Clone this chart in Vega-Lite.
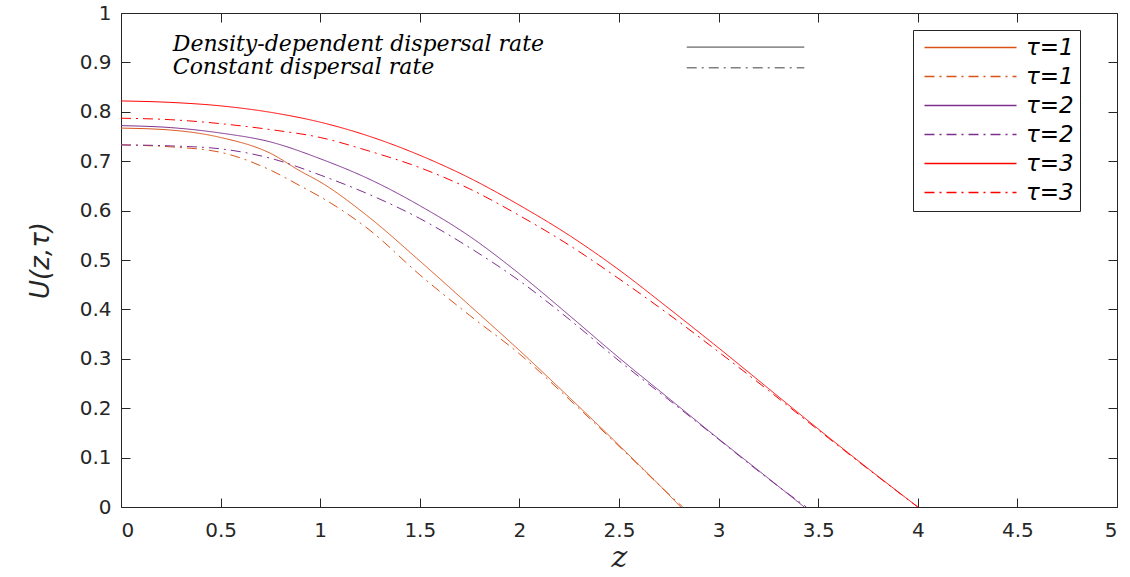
{
  "$schema": "https://vega.github.io/schema/vega-lite/v6.json",
  "width": 996,
  "height": 494,
  "autosize": {"type": "none"},
  "padding": {"left": 121, "top": 13, "right": 13, "bottom": 70},
  "background": "white",
  "config": {
    "view": {"stroke": null},
    "axis": {
      "grid": false,
      "domainColor": "#262626",
      "tickColor": "#262626",
      "labelColor": "#262626",
      "labelFont": "DejaVu Sans",
      "labelFontSize": 20,
      "tickSize": -9,
      "titleColor": "#262626",
      "titleFontWeight": "normal"
    },
    "legend": {
      "orient": "none",
      "legendX": 792,
      "legendY": 17,
      "title": null,
      "symbolType": "M-4.6,0H4.6",
      "symbolSize": 400,
      "symbolStrokeWidth": 1.5,
      "symbolOffset": 40,
      "strokeColor": "#262626",
      "fillColor": "white",
      "padding": 6,
      "rowPadding": 5,
      "labelOffset": 44,
      "labelFont": "DejaVu Sans",
      "labelFontStyle": "italic",
      "labelFontSize": 23,
      "labelColor": "#000000"
    }
  },
  "datasets": {
    "profiles": [
      {"series": "τ=1 density-dependent", "z": 0, "U": 0.767},
      {"series": "τ=1 density-dependent", "z": 0.25, "U": 0.763},
      {"series": "τ=1 density-dependent", "z": 0.5, "U": 0.748},
      {"series": "τ=1 density-dependent", "z": 0.75, "U": 0.716},
      {"series": "τ=1 density-dependent", "z": 0.9, "U": 0.68},
      {"series": "τ=1 density-dependent", "z": 1.0, "U": 0.658},
      {"series": "τ=1 density-dependent", "z": 1.25, "U": 0.585},
      {"series": "τ=1 density-dependent", "z": 1.5, "U": 0.498},
      {"series": "τ=1 density-dependent", "z": 1.75, "U": 0.408},
      {"series": "τ=1 density-dependent", "z": 2.0, "U": 0.317},
      {"series": "τ=1 density-dependent", "z": 2.25, "U": 0.222},
      {"series": "τ=1 density-dependent", "z": 2.5, "U": 0.125},
      {"series": "τ=1 density-dependent", "z": 2.75, "U": 0.025},
      {"series": "τ=1 density-dependent", "z": 2.81, "U": 0},

      {"series": "τ=1 constant", "z": 0, "U": 0.733},
      {"series": "τ=1 constant", "z": 0.25, "U": 0.729},
      {"series": "τ=1 constant", "z": 0.5, "U": 0.718},
      {"series": "τ=1 constant", "z": 0.75, "U": 0.682},
      {"series": "τ=1 constant", "z": 0.9, "U": 0.65},
      {"series": "τ=1 constant", "z": 1.0, "U": 0.628},
      {"series": "τ=1 constant", "z": 1.25, "U": 0.56},
      {"series": "τ=1 constant", "z": 1.5, "U": 0.47},
      {"series": "τ=1 constant", "z": 1.75, "U": 0.388},
      {"series": "τ=1 constant", "z": 2.0, "U": 0.31},
      {"series": "τ=1 constant", "z": 2.25, "U": 0.218},
      {"series": "τ=1 constant", "z": 2.5, "U": 0.123},
      {"series": "τ=1 constant", "z": 2.75, "U": 0.026},
      {"series": "τ=1 constant", "z": 2.82, "U": 0},

      {"series": "τ=2 density-dependent", "z": 0, "U": 0.772},
      {"series": "τ=2 density-dependent", "z": 0.25, "U": 0.768},
      {"series": "τ=2 density-dependent", "z": 0.5, "U": 0.757},
      {"series": "τ=2 density-dependent", "z": 0.75, "U": 0.739},
      {"series": "τ=2 density-dependent", "z": 1.0, "U": 0.705},
      {"series": "τ=2 density-dependent", "z": 1.25, "U": 0.663},
      {"series": "τ=2 density-dependent", "z": 1.5, "U": 0.61},
      {"series": "τ=2 density-dependent", "z": 1.75, "U": 0.548},
      {"series": "τ=2 density-dependent", "z": 2.0, "U": 0.472},
      {"series": "τ=2 density-dependent", "z": 2.25, "U": 0.388},
      {"series": "τ=2 density-dependent", "z": 2.5, "U": 0.302},
      {"series": "τ=2 density-dependent", "z": 2.75, "U": 0.22},
      {"series": "τ=2 density-dependent", "z": 3.0, "U": 0.138},
      {"series": "τ=2 density-dependent", "z": 3.25, "U": 0.058},
      {"series": "τ=2 density-dependent", "z": 3.43, "U": 0},

      {"series": "τ=2 constant", "z": 0, "U": 0.733},
      {"series": "τ=2 constant", "z": 0.25, "U": 0.731},
      {"series": "τ=2 constant", "z": 0.5, "U": 0.725},
      {"series": "τ=2 constant", "z": 0.75, "U": 0.706},
      {"series": "τ=2 constant", "z": 1.0, "U": 0.672},
      {"series": "τ=2 constant", "z": 1.25, "U": 0.632},
      {"series": "τ=2 constant", "z": 1.5, "U": 0.584},
      {"series": "τ=2 constant", "z": 1.75, "U": 0.525},
      {"series": "τ=2 constant", "z": 2.0, "U": 0.458},
      {"series": "τ=2 constant", "z": 2.25, "U": 0.38},
      {"series": "τ=2 constant", "z": 2.5, "U": 0.296},
      {"series": "τ=2 constant", "z": 2.75, "U": 0.217},
      {"series": "τ=2 constant", "z": 3.0, "U": 0.137},
      {"series": "τ=2 constant", "z": 3.25, "U": 0.057},
      {"series": "τ=2 constant", "z": 3.44, "U": 0},

      {"series": "τ=3 density-dependent", "z": 0, "U": 0.822},
      {"series": "τ=3 density-dependent", "z": 0.25, "U": 0.819},
      {"series": "τ=3 density-dependent", "z": 0.5, "U": 0.812},
      {"series": "τ=3 density-dependent", "z": 0.75, "U": 0.799},
      {"series": "τ=3 density-dependent", "z": 1.0, "U": 0.779},
      {"series": "τ=3 density-dependent", "z": 1.25, "U": 0.75},
      {"series": "τ=3 density-dependent", "z": 1.5, "U": 0.712},
      {"series": "τ=3 density-dependent", "z": 1.75, "U": 0.666},
      {"series": "τ=3 density-dependent", "z": 2.0, "U": 0.611},
      {"series": "τ=3 density-dependent", "z": 2.25, "U": 0.55},
      {"series": "τ=3 density-dependent", "z": 2.5, "U": 0.48},
      {"series": "τ=3 density-dependent", "z": 2.75, "U": 0.402},
      {"series": "τ=3 density-dependent", "z": 3.0, "U": 0.322},
      {"series": "τ=3 density-dependent", "z": 3.25, "U": 0.24},
      {"series": "τ=3 density-dependent", "z": 3.5, "U": 0.158},
      {"series": "τ=3 density-dependent", "z": 3.75, "U": 0.078},
      {"series": "τ=3 density-dependent", "z": 4.0, "U": 0},

      {"series": "τ=3 constant", "z": 0, "U": 0.787},
      {"series": "τ=3 constant", "z": 0.25, "U": 0.784},
      {"series": "τ=3 constant", "z": 0.5, "U": 0.776},
      {"series": "τ=3 constant", "z": 0.75, "U": 0.764},
      {"series": "τ=3 constant", "z": 1.0, "U": 0.748},
      {"series": "τ=3 constant", "z": 1.25, "U": 0.72},
      {"series": "τ=3 constant", "z": 1.5, "U": 0.687},
      {"series": "τ=3 constant", "z": 1.75, "U": 0.644},
      {"series": "τ=3 constant", "z": 2.0, "U": 0.59},
      {"series": "τ=3 constant", "z": 2.25, "U": 0.53},
      {"series": "τ=3 constant", "z": 2.5, "U": 0.462},
      {"series": "τ=3 constant", "z": 2.75, "U": 0.39},
      {"series": "τ=3 constant", "z": 3.0, "U": 0.314},
      {"series": "τ=3 constant", "z": 3.25, "U": 0.236},
      {"series": "τ=3 constant", "z": 3.5, "U": 0.156},
      {"series": "τ=3 constant", "z": 3.75, "U": 0.077},
      {"series": "τ=3 constant", "z": 4.0, "U": 0}
    ]
  },
  "layer": [
    {
      "data": {"name": "profiles"},
      "mark": {"type": "line", "strokeWidth": 1, "interpolate": "monotone"},
      "encoding": {
        "x": {
          "field": "z",
          "type": "quantitative",
          "scale": {"domain": [0, 5], "nice": false},
          "axis": {
            "orient": "bottom",
            "values": [0, 0.5, 1, 1.5, 2, 2.5, 3, 3.5, 4, 4.5, 5],
            "format": "~g",
            "labelPadding": 22,
            "title": "z",
            "titleFont": "DejaVu Serif",
            "titleFontStyle": "italic",
            "titleFontSize": 30,
            "titlePadding": 2
          }
        },
        "y": {
          "field": "U",
          "type": "quantitative",
          "scale": {"domain": [0, 1], "nice": false},
          "axis": {
            "orient": "left",
            "values": [0, 0.1, 0.2, 0.3, 0.4, 0.5, 0.6, 0.7, 0.8, 0.9, 1],
            "format": "~g",
            "labelPadding": 19,
            "title": "U(z,τ)",
            "titleFont": "DejaVu Sans",
            "titleFontStyle": "italic",
            "titleFontSize": 26,
            "titlePadding": 26
          }
        },
        "color": {
          "field": "series",
          "type": "nominal",
          "scale": {
            "domain": ["τ=1 density-dependent", "τ=1 constant", "τ=2 density-dependent", "τ=2 constant", "τ=3 density-dependent", "τ=3 constant"],
            "range": ["#D95319", "#D95319", "#7E2F8E", "#7E2F8E", "#FF0000", "#FF0000"]
          },
          "legend": {
            "labelExpr": "split(datum.label, ' ')[0]",
            "encode": {
              "symbols": {
                "update": {
                  "stroke": {"scale": "color", "field": "value"},
                  "strokeDash": {"scale": "strokeDash", "field": "value"}
                }
              }
            }
          }
        },
        "strokeDash": {
          "field": "series",
          "type": "nominal",
          "scale": {
            "domain": ["τ=1 density-dependent", "τ=1 constant", "τ=2 density-dependent", "τ=2 constant", "τ=3 density-dependent", "τ=3 constant"],
            "range": [[1, 0], [10, 5, 2, 5], [1, 0], [10, 5, 2, 5], [1, 0], [10, 5, 2, 5]]
          },
          "legend": null
        }
      }
    },
    {
      "data": {"values": [{}]},
      "mark": {"type": "text", "align": "left", "baseline": "middle", "font": "DejaVu Serif", "fontStyle": "italic", "fontSize": 22, "color": "#000000"},
      "encoding": {
        "x": {
          "datum": 0.26,
          "type": "quantitative",
          "axis": {"orient": "top", "values": [0, 0.5, 1, 1.5, 2, 2.5, 3, 3.5, 4, 4.5, 5], "labels": false, "title": null}
        },
        "y": {
          "datum": 0.937,
          "type": "quantitative",
          "axis": {"orient": "right", "values": [0, 0.1, 0.2, 0.3, 0.4, 0.5, 0.6, 0.7, 0.8, 0.9, 1], "labels": false, "title": null}
        },
        "text": {"value": "Density-dependent dispersal rate"}
      }
    },
    {
      "data": {"values": [{}]},
      "mark": {"type": "text", "align": "left", "baseline": "middle", "font": "DejaVu Serif", "fontStyle": "italic", "fontSize": 22, "color": "#000000"},
      "encoding": {
        "x": {"datum": 0.26, "type": "quantitative", "axis": null},
        "y": {"datum": 0.891, "type": "quantitative", "axis": null},
        "text": {"value": "Constant dispersal rate"}
      }
    },
    {
      "data": {"values": [{}]},
      "mark": {"type": "rule", "strokeWidth": 1, "color": "#404040"},
      "encoding": {
        "x": {"datum": 2.84, "type": "quantitative", "axis": null},
        "x2": {"datum": 3.43},
        "y": {"datum": 0.931, "type": "quantitative", "axis": null}
      }
    },
    {
      "data": {"values": [{}]},
      "mark": {"type": "rule", "strokeWidth": 1, "color": "#404040", "strokeDash": [10, 5, 2, 5]},
      "encoding": {
        "x": {"datum": 2.84, "type": "quantitative", "axis": null},
        "x2": {"datum": 3.43},
        "y": {"datum": 0.889, "type": "quantitative", "axis": null}
      }
    }
  ],
  "resolve": {"axis": {"x": "independent", "y": "independent"}}
}
